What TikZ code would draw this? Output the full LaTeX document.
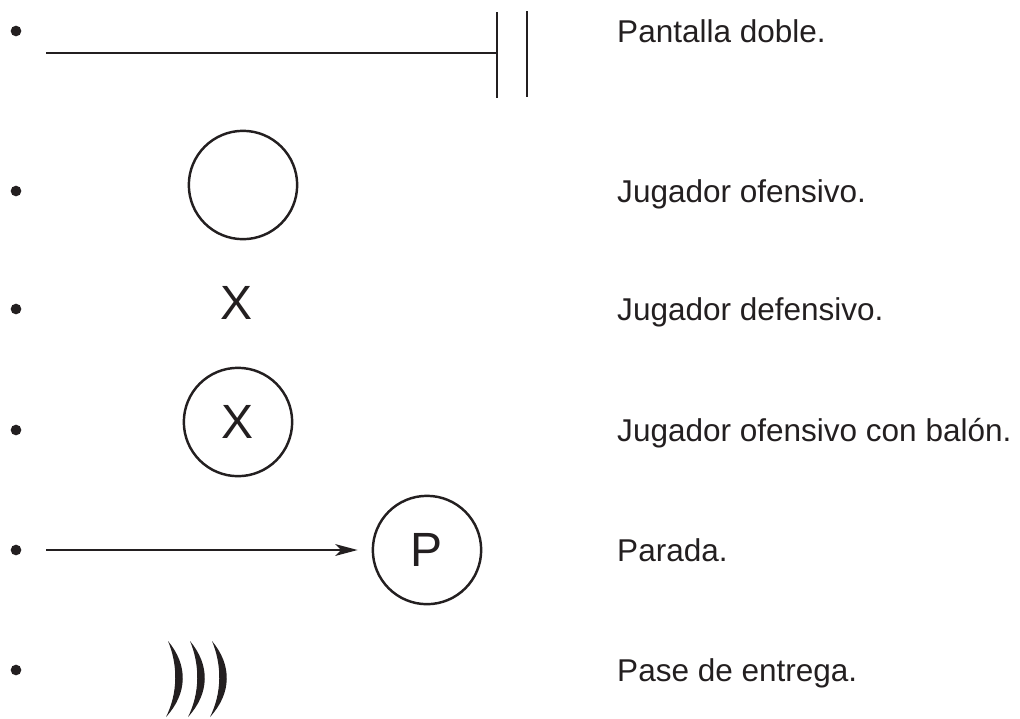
\documentclass[tikz,border=0pt]{standalone}
\usepackage{fontspec}
\setmainfont{Liberation Sans}
\usetikzlibrary{arrows.meta}
\definecolor{ink}{HTML}{231F20}

\begin{document}
\begin{tikzpicture}[
  x=0.03cm, y=-0.03cm,
  dot/.style   ={circle, fill=ink, inner sep=0pt, minimum size=0.32cm},
  player/.style={draw=ink, circle, line width=2.1pt, minimum size=3.25cm,
                 inner sep=0pt, text=ink, font=\fontsize{41}{41}\selectfont},
  sym/.style   ={inner sep=0pt, text=ink, font=\fontsize{41}{41}\selectfont},
  lbl/.style   ={anchor=base west, inner sep=0pt, text=ink,
                 font=\fontsize{26.9}{30}\selectfont},
  mov/.style   ={draw=ink, line width=2pt},
  bar/.style   ={draw=ink, line width=2.3pt},
  stop/.style  ={-{Stealth[length=19pt, width=10pt, inset=5pt]}, draw=ink,
                 line width=2pt},
]
\useasboundingbox (0,0) rectangle (1020,718);

% ============================ bullets and labels ============================
\foreach \i/\y in {1/31, 2/191, 3/309, 4/430, 5/550, 6/670} {
  \node[dot] (b\i) at (16,\y) {};
}
\node[lbl] (t1) at (617,42)  {Pantalla doble.};
\node[lbl] (t2) at (617,202) {Jugador ofensivo.};
\node[lbl] (t3) at (617,320) {Jugador defensivo.};
\node[lbl] (t4) at (617,441) {Jugador ofensivo con balón.};
\node[lbl] (t5) at (617,561) {Parada.};
\node[lbl] (t6) at (617,681) {Pase de entrega.};

% ============================ double screen =================================
\coordinate (s1)   at (46,53);
\coordinate (bar1) at (497,55);
\coordinate (bar2) at (527,54);
\draw[mov] (s1) -- (bar1 |- s1);
\draw[bar] (bar1) ++(0,-43) -- ++(0,86);
\draw[bar] (bar2) ++(0,-43) -- ++(0,86);

% ============================ players =======================================
\node[player] (ofe) at (243,185) {};
\node[sym]    (def) at (237,303) {X};
\node[player] (bal) at (238,422) {X};

% ============================ stop ==========================================
\node[player] (par) at (427,550) {P};
\coordinate (s5) at (46,550);
\draw[stop, shorten >=0.42cm] (s5) -- (par);

% ============================ hand-off pass =================================
\foreach \dx in {0,22,44} {
  \fill[ink] ({168+\dx},641) .. controls ({188+\dx},665) and ({188+\dx},693)
    .. ({166+\dx},717) .. controls ({178+\dx},693) and ({178+\dx},665)
    .. ({168+\dx},641) -- cycle;
}

\end{tikzpicture}
\end{document}
